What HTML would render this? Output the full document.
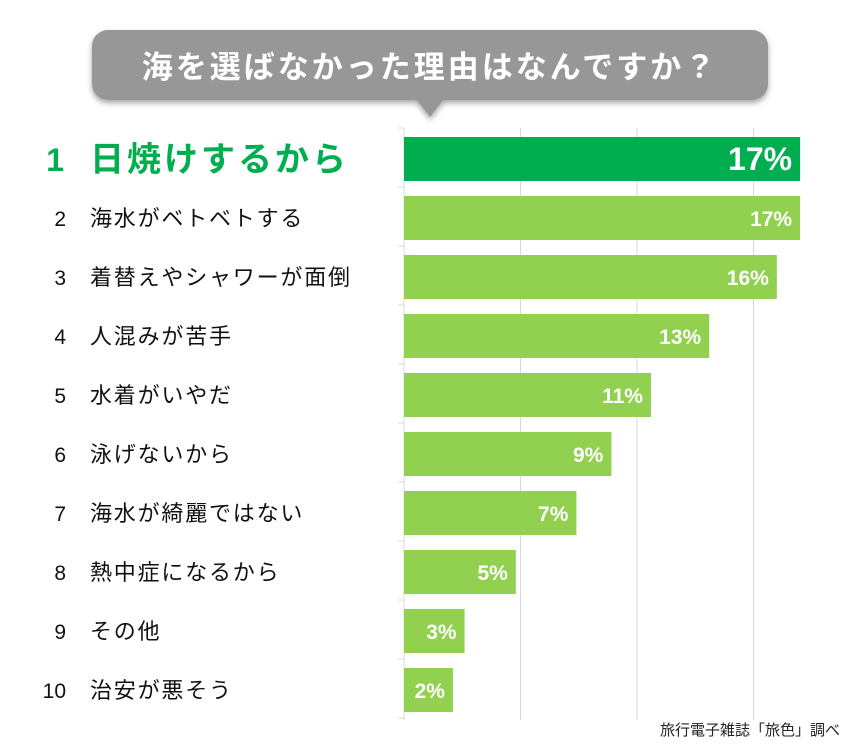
<!DOCTYPE html>
<html><head><meta charset="utf-8">
<style>
body{margin:0;background:#fff;width:856px;height:750px;overflow:hidden;font-family:"Liberation Sans","Noto Sans CJK JP",sans-serif;}
</style></head>
<body>
<svg id="c" width="856" height="750" style="position:absolute;left:0;top:0">
<defs><filter id="sh" x="-5%" y="-20%" width="110%" height="150%"><feDropShadow dx="0" dy="3" stdDeviation="3" flood-color="#000" flood-opacity="0.35"/></filter></defs>
<g filter="url(#sh)">
<rect x="92" y="30" width="676" height="70" rx="16" fill="#979797"/>
<polygon points="416,99 444,99 430,117" fill="#979797"/>
</g>
<text x="430" y="78" text-anchor="middle" font-size="31" font-weight="bold" letter-spacing="3" fill="#fff" font-family="Liberation Sans,Noto Sans CJK JP,sans-serif">海を選ばなかった理由はなんですか？</text>
<g id="grid"></g><g id="bars"></g><g id="labels"></g>
<text x="840" y="735" text-anchor="end" font-size="15" fill="#222">旅行電子雑誌「旅色」調べ</text>
</svg>
<script>
const categories=["日焼けするから","海水がベトベトする","着替えやシャワーが面倒","人混みが苦手","水着がいやだ","泳げないから","海水が綺麗ではない","熱中症になるから","その他","治安が悪そう"];
const values=[17,17,16,13.1,10.6,8.9,7.4,4.8,2.6,2.1];
const valueLabels=["17%","17%","16%","13%","11%","9%","7%","5%","3%","2%"];
const gridTicks=[5,10,15];
const NS="http://www.w3.org/2000/svg";
const x0=404,k=23.3,top0=128,rowH=59;
const xs=v=>x0+v*k;
const yr=i=>top0+i*rowH;
function mk(t,a,p){const e=document.createElementNS(NS,t);for(const n in a)e.setAttribute(n,a[n]);p.appendChild(e);return e;}
const grid=document.getElementById('grid'),bars=document.getElementById('bars'),labels=document.getElementById('labels');
gridTicks.forEach(t=>{const l=mk('line',{x1:xs(t),x2:xs(t),y1:top0,y2:yr(categories.length)+2,stroke:'#d8d8d8','stroke-width':1},grid);

});
const ax=mk('line',{x1:x0,x2:x0,y1:top0,y2:yr(categories.length)+2,stroke:'#d8d8d8'},grid);


for(let i=0;i<=categories.length;i++){const t=mk('line',{x1:x0-6,x2:x0,y1:yr(i),y2:yr(i),stroke:'#d8d8d8'},grid);

}
categories.forEach((c,i)=>{
 const y=yr(i)+9,h=44,first=i===0;
 const r=mk('rect',{x:x0,y:y,width:xs(values[i])-x0,height:h,fill:first?'#00ad4f':'#92d050'},bars);
 
 
 const vt=mk('text',{x:xs(values[i])-8,y:y+h/2+(first?11:8),'text-anchor':'end','font-size':first?32:21,'font-weight':'bold',fill:'#fff'},bars);
 vt.textContent=valueLabels[i];
 
 
 const cy=y+h/2;
 const rk=mk('text',{x:first?64:66,y:cy+(first?12:8),'text-anchor':'end','font-size':first?32:21,'font-weight':first?'bold':'normal',fill:first?'#00ad4f':'#111'},labels);
 rk.textContent=String(i+1);
 
 
 const ct=mk('text',{x:90,y:cy+(first?12:8),'font-size':first?34:22,'letter-spacing':first?3:1.8,'font-weight':first?'bold':'normal',fill:first?'#00ad4f':'#111'},labels);
 ct.textContent=c;
 
 
});
</script>
</body></html>
